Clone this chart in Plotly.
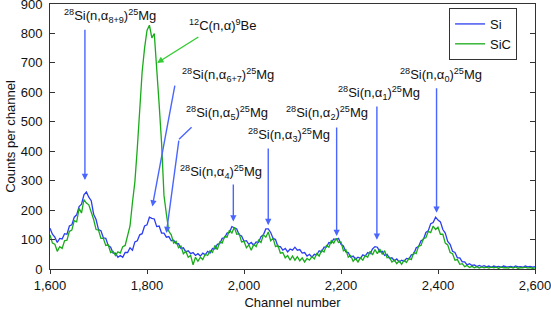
import plotly.graph_objects as go

# ---------------- data ----------------
channels = list(range(1600, 2601, 5))

si_counts = [
    138, 118, 108, 90, 104, 102, 120, 118, 146, 150,
    176, 184, 212, 220, 252, 262, 244, 232, 186, 168,
    134, 130, 106, 104, 80, 74, 54, 54, 40, 46,
    40, 56, 56, 72, 64, 92, 96, 116, 120, 146,
    150, 176, 172, 170, 144, 146, 122, 122, 108, 110,
    96, 98, 86, 86, 70, 72, 58, 62, 52, 56,
    46, 52, 44, 54, 48, 60, 54, 70, 68, 84,
    86, 104, 106, 122, 124, 144, 140, 136, 116, 112,
    94, 96, 84, 90, 80, 92, 90, 110, 116, 136,
    136, 124, 104, 100, 76, 76, 64, 70, 58, 68,
    64, 74, 64, 66, 54, 56, 44, 50, 40, 50,
    48, 62, 58, 74, 74, 90, 88, 102, 100, 104,
    84, 78, 58, 56, 40, 44, 34, 40, 36, 48,
    44, 56, 52, 68, 76, 74, 58, 60, 46, 50,
    36, 38, 28, 34, 24, 30, 26, 36, 34, 48,
    50, 72, 76, 96, 100, 124, 130, 154, 158, 176,
    166, 160, 134, 122, 94, 84, 60, 56, 38, 38,
    24, 24, 14, 18, 12, 14, 8, 12, 8, 11,
    7, 10, 6, 10, 7, 9, 6, 10, 8, 7,
    9, 6, 10, 7, 8, 6, 10, 7, 9, 6,
    8,
]

sic_counts = [
    116, 88, 84, 60, 76, 70, 96, 98, 128, 132,
    164, 160, 206, 190, 236, 224, 218, 196, 168, 134,
    132, 104, 104, 80, 82, 56, 60, 46, 58, 54,
    76, 80, 112, 146, 226, 296, 410, 530, 670, 750,
    810, 828, 785, 800, 690, 560, 430, 250, 186, 128,
    116, 88, 94, 72, 78, 52, 60, 40, 46, 14,
    40, 26, 40, 32, 50, 46, 62, 56, 80, 66,
    92, 88, 110, 108, 132, 122, 142, 118, 120, 92,
    94, 72, 82, 64, 84, 76, 98, 90, 116, 108,
    126, 96, 104, 76, 80, 54, 56, 38, 46, 30,
    44, 30, 42, 28, 38, 24, 36, 30, 42, 34,
    52, 44, 64, 58, 80, 74, 96, 88, 104, 90,
    92, 62, 66, 40, 46, 26, 36, 24, 38, 30,
    46, 40, 60, 48, 66, 52, 68, 50, 62, 38,
    40, 24, 30, 18, 28, 16, 30, 22, 36, 32,
    56, 52, 78, 80, 104, 106, 128, 124, 146, 134,
    142, 118, 118, 88, 82, 56, 52, 30, 32, 16,
    18, 8, 12, 5, 9, 4, 8, 3, 7, 4,
    6, 3, 7, 4, 6, 2, 7, 4, 5, 3,
    6, 3, 7, 2, 5, 4, 6, 3, 5, 2,
    4,
]

# peak labels: text, label centre (channel, counts)
label_texts = [
    "<sup>28</sup>Si(n,α<sub>8+9</sub>)<sup>25</sup>Mg",
    "<sup>12</sup>C(n,α)<sup>9</sup>Be",
    "<sup>28</sup>Si(n,α<sub>6+7</sub>)<sup>25</sup>Mg",
    "<sup>28</sup>Si(n,α<sub>5</sub>)<sup>25</sup>Mg",
    "<sup>28</sup>Si(n,α<sub>4</sub>)<sup>25</sup>Mg",
    "<sup>28</sup>Si(n,α<sub>3</sub>)<sup>25</sup>Mg",
    "<sup>28</sup>Si(n,α<sub>2</sub>)<sup>25</sup>Mg",
    "<sup>28</sup>Si(n,α<sub>1</sub>)<sup>25</sup>Mg",
    "<sup>28</sup>Si(n,α<sub>0</sub>)<sup>25</sup>Mg",
]
label_ch = [1724, 1957, 1967, 1964, 1953, 2092, 2172, 2278, 2406]
label_cnt = [859, 829, 659, 530, 329, 455, 530, 598, 659]

# arrows: head (channel, counts), tail (channel, counts), head?, colour key
arrow_head_ch = [1672, 1821, 1811, 1840, 1866, 1978, 2050, 2191, 2274, 2397]
arrow_head_cnt = [302, 700, 212, 122, 441, 161, 149, 112, 99, 191]
arrow_tail_ch = [1672, 1909, 1858, 1866, 1895, 1978, 2050, 2191, 2274, 2397]
arrow_tail_cnt = [818, 791, 628, 441, 486, 292, 414, 486, 557, 619]
arrow_has_head = [1, 1, 1, 1, 0, 1, 1, 1, 1, 1]
arrow_colour = ["b", "g", "b", "b", "b", "b", "b", "b", "b", "b"]

# ---------------- figure ----------------
BLUE = "#2b3df2"
GREEN = "#1aab1a"
ARROW_BLUE = "#4a66ff"
ARROW_GREEN = "#33cc33"
FONT = "Liberation Sans, Arial, Helvetica, sans-serif"

fig = go.Figure()
fig.add_trace(go.Scatter(x=channels, y=si_counts, mode="lines", name="Si",
                         line=dict(color=BLUE, width=1.3)))
fig.add_trace(go.Scatter(x=channels, y=sic_counts, mode="lines", name="SiC",
                         line=dict(color=GREEN, width=1.3)))

annotations = []
for t, cx, cy in zip(label_texts, label_ch, label_cnt):
    annotations.append(dict(x=cx, y=cy, xref="x", yref="y", text=t, showarrow=False,
                            xanchor="center", yanchor="middle",
                            font=dict(family=FONT, size=13, color="#111")))
for hx, hy, tx, ty, hh, ck in zip(arrow_head_ch, arrow_head_cnt, arrow_tail_ch,
                                   arrow_tail_cnt, arrow_has_head, arrow_colour):
    annotations.append(dict(x=hx, y=hy, ax=tx, ay=ty, xref="x", yref="y",
                            axref="x", ayref="y", text="", showarrow=True,
                            arrowhead=2 if hh else 0, arrowsize=0.9, arrowwidth=1.4,
                            arrowcolor=ARROW_BLUE if ck == "b" else ARROW_GREEN))

fig.update_layout(
    width=551, height=310,
    margin=dict(l=50, r=16, t=4, b=41, autoexpand=False),
    paper_bgcolor="white", plot_bgcolor="white",
    font=dict(family=FONT, size=13, color="#111"),
    showlegend=True,
    legend=dict(x=0.963, y=0.985, xanchor="right", yanchor="top",
                bgcolor="white", bordercolor="#333", borderwidth=1,
                font=dict(family=FONT, size=13), tracegroupgap=0,
                itemwidth=30),
    annotations=annotations,
)
fig.update_xaxes(range=[1600, 2600], tickvals=[1600, 1800, 2000, 2200, 2400, 2600],
                 tickformat=",d", ticks="outside", ticklen=4, tickcolor="#333",
                 showline=True, linecolor="#333", linewidth=1, mirror=True,
                 showgrid=False, zeroline=False, automargin=False,
                 ticklabeloverflow="allow",
                 title=dict(text="Channel number", font=dict(size=13), standoff=7))
fig.update_yaxes(range=[0, 900], dtick=100, ticks="inside", ticklen=5, tickcolor="#333",
                 showline=True, linecolor="#333", linewidth=1, mirror="ticks",
                 showgrid=False, zeroline=False, automargin=False,
                 ticklabeloverflow="allow", ticklabelstandoff=4,
                 title=dict(text="Counts per channel", font=dict(size=13), standoff=2))

fig.write_html("out.html", config={"displayModeBar": False},
               post_script="document.body.style.margin='0';document.body.style.overflow='hidden';")
